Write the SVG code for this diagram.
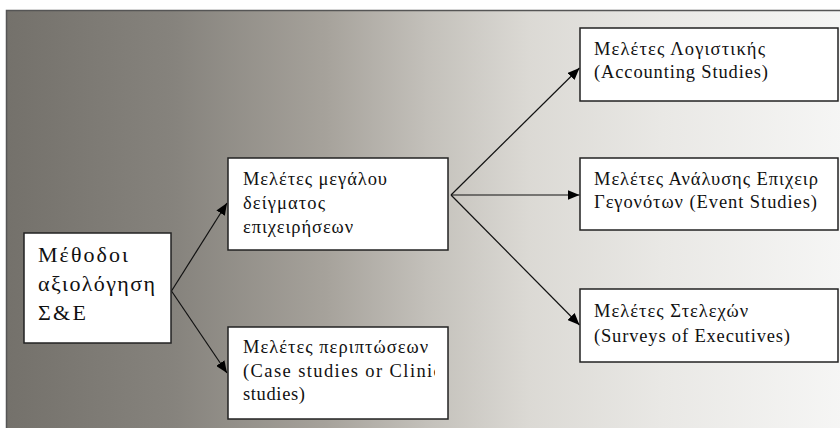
<svg xmlns="http://www.w3.org/2000/svg" width="840" height="428" viewBox="0 0 840 428">
<defs>
<linearGradient id="bg" x1="0" y1="0" x2="1" y2="0">
<stop offset="0" stop-color="#74716b"/>
<stop offset="0.2" stop-color="#86837d"/>
<stop offset="0.38" stop-color="#a6a29b"/>
<stop offset="0.5" stop-color="#c3c0ba"/>
<stop offset="0.62" stop-color="#dbd9d4"/>
<stop offset="0.78" stop-color="#e9e8e5"/>
<stop offset="1" stop-color="#f6f6f5"/>
</linearGradient>
<marker id="ah" viewBox="0 0 12 10" refX="12" refY="5" markerWidth="12" markerHeight="10" markerUnits="userSpaceOnUse" orient="auto">
<path d="M0,0 L12,5 L0,10 Z" fill="#000"/>
</marker>
<clipPath id="clipC"><rect x="228" y="327" width="207" height="92"/></clipPath>
</defs>
<style>
.box{fill:#fff;stroke:#222;stroke-width:1.5}
.t{font-family:"Liberation Serif","Times New Roman","DejaVu Serif",serif;font-size:18.5px;fill:#111}
.ta{font-family:"Liberation Serif","Times New Roman","DejaVu Serif",serif;font-size:22px;fill:#111}
.c{stroke:#111;stroke-width:1.2;fill:none;marker-end:url(#ah)}
</style>
<rect x="0" y="0" width="840" height="428" fill="#fff"/>
<rect x="6.5" y="10.5" width="840" height="425" fill="url(#bg)" stroke="#555" stroke-width="1.5"/>
<g id="connectors">
<line class="c" x1="171.5" y1="291" x2="227" y2="203"/>
<line class="c" x1="171.5" y1="291" x2="227" y2="373"/>
<line class="c" x1="451" y1="195" x2="579.5" y2="68"/>
<line class="c" x1="451" y1="195" x2="579.5" y2="195"/>
<line class="c" x1="451" y1="195" x2="579.5" y2="325"/>
</g>
<g id="node-methods">
<rect class="box" x="24" y="233" width="147" height="110"/>
<text class="ta" x="38" y="262" textLength="90" lengthAdjust="spacing">Μέθοδοι</text>
<text class="ta" x="38" y="291" textLength="117" lengthAdjust="spacing">αξιολόγηση</text>
<text class="ta" x="38" y="320" textLength="48" lengthAdjust="spacing">Σ&amp;Ε</text>
</g>
<g id="node-large-sample">
<rect class="box" x="228" y="158" width="220" height="92"/>
<text class="t" x="243" y="185" textLength="144" lengthAdjust="spacing">Μελέτες μεγάλου</text>
<text class="t" x="243" y="209" textLength="82" lengthAdjust="spacing">δείγματος</text>
<text class="t" x="243" y="233" textLength="110" lengthAdjust="spacing">επιχειρήσεων</text>
</g>
<g id="node-case-studies">
<rect class="box" x="228" y="327" width="220" height="92"/>
<text class="t" x="243" y="353" textLength="185" lengthAdjust="spacing">Μελέτες περιπτώσεων</text>
<text class="t" x="243" y="377" clip-path="url(#clipC)" letter-spacing="1.4">(Case studies or Clinical</text>
<text class="t" x="243" y="400" textLength="62" lengthAdjust="spacing">studies)</text>
</g>
<g id="node-accounting">
<rect class="box" x="580" y="28" width="258" height="73"/>
<text class="t" x="594" y="55" textLength="171" lengthAdjust="spacing">Μελέτες Λογιστικής</text>
<text class="t" x="594" y="78" textLength="174" lengthAdjust="spacing">(Accounting Studies)</text>
</g>
<g id="node-event">
<rect class="box" x="580" y="158" width="258" height="72"/>
<text class="t" x="594" y="185" textLength="224" lengthAdjust="spacing">Μελέτες Ανάλυσης Επιχειρ</text>
<text class="t" x="594" y="208" textLength="223" lengthAdjust="spacing">Γεγονότων (Event Studies)</text>
</g>
<g id="node-executives">
<rect class="box" x="580" y="289" width="258" height="73"/>
<text class="t" x="594" y="317" textLength="154" lengthAdjust="spacing">Μελέτες Στελεχών</text>
<text class="t" x="594" y="342" textLength="196" lengthAdjust="spacing">(Surveys of Executives)</text>
</g>
</svg>
